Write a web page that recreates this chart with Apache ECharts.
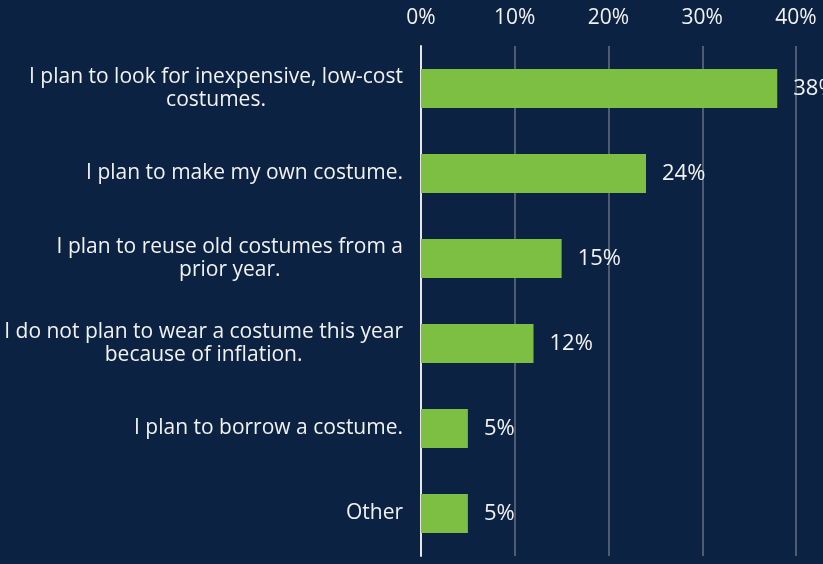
<!DOCTYPE html>
<html>
<head>
<meta charset="utf-8">
<script src="https://cdn.jsdelivr.net/npm/echarts@6/dist/echarts.min.js"></script>
<style>
  html, body { margin: 0; padding: 0; background: #0b2243; }
  #chart { width: 823px; height: 564px; }
</style>
</head>
<body>
<div id="chart"></div>
<script>
// Survey answers, top to bottom (line breaks as shown on the axis)
const categories = [
  'I plan to look for inexpensive, low-cost\ncostumes.',
  'I plan to make my own costume.',
  'I plan to reuse old costumes from a\nprior year.',
  'I do not plan to wear a costume this year\nbecause of inflation.',
  'I plan to borrow a costume.',
  'Other'
];
// Share of respondents, percent
const shares = [38, 24, 15, 12, 5, 5];
// Value axis ticks, percent
const tickValues = [0, 10, 20, 30, 40];

const FONT = 'Open Sans';
const TEXT = '#f2f2f2';

const chart = echarts.init(document.getElementById('chart'));
chart.setOption({
  backgroundColor: '#0b2243',
  animation: false,
  grid: { left: 421, right: 27, top: 46, bottom: 8, containLabel: false },
  xAxis: {
    type: 'value',
    position: 'top',
    min: tickValues[0],
    max: tickValues[tickValues.length - 1],
    interval: 10,
    axisLine: { show: false },
    axisTick: { show: false },
    splitLine: { show: true, lineStyle: { color: '#4f5b6e', width: 2 } },
    axisLabel: {
      color: TEXT,
      fontFamily: FONT,
      fontSize: 21,
      margin: 17,
      formatter: v => v + '%'
    }
  },
  yAxis: {
    type: 'category',
    inverse: true,
    data: categories,
    axisLine: { show: true, lineStyle: { color: '#e6e6e6', width: 2 } },
    axisTick: { show: false },
    axisLabel: {
      margin: 18,
      fontFamily: FONT,
      fontSize: 21,
      color: TEXT,
      lineHeight: 23,
      formatter: v => v.split('\n').map(s => '{c|' + s + '}').join('\n'),
      rich: {
        c: { align: 'center', fontFamily: FONT, fontSize: 21, color: TEXT, lineHeight: 23 }
      }
    }
  },
  series: [{
    type: 'bar',
    data: shares,
    barWidth: 39,
    itemStyle: { color: '#7dbf43' },
    label: {
      show: true,
      position: 'right',
      distance: 16,
      color: TEXT,
      fontFamily: FONT,
      fontSize: 22,
      formatter: p => p.value + '%'
    },
    z: 3
  }]
});
</script>
</body>
</html>
